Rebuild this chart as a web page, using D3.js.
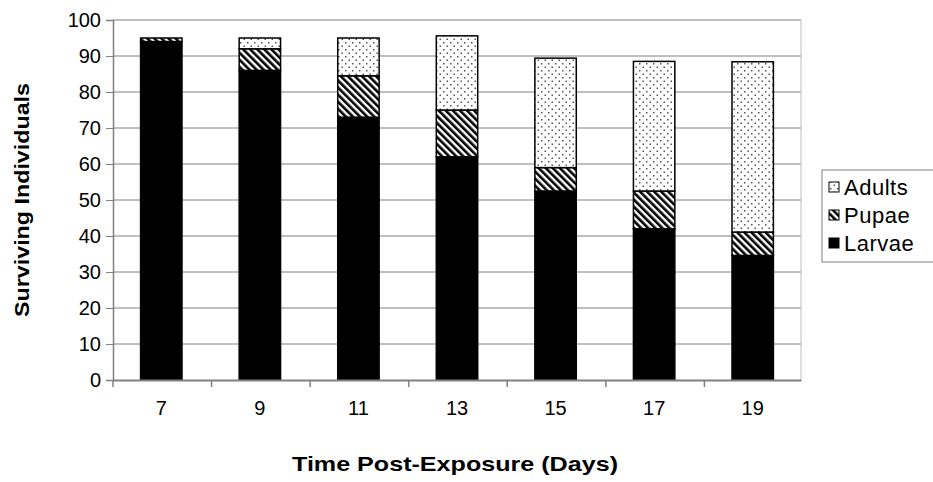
<!DOCTYPE html>
<html>
<head>
<meta charset="utf-8">
<script src="https://cdn.jsdelivr.net/npm/d3@7"></script>
<style>
  body { margin: 0; background: #fff; }
  svg { font-family: "Liberation Sans", Arial, sans-serif; }
</style>
</head>
<body>
<div id="chart"></div>
<script>
// Chart data
const days = ["7", "9", "11", "13", "15", "17", "19"];
const larvae = [94, 86, 73, 62, 52.5, 42, 34.6];
const pupae = [1, 6, 11.5, 13, 6.5, 10.5, 6.5];
const adults = [0, 3, 10.5, 20.6, 30.4, 36, 47.3];
const yTicks = [0, 10, 20, 30, 40, 50, 60, 70, 80, 90, 100];
const seriesNames = ["Larvae", "Pupae", "Adults"];

const width = 933, height = 482;
const margin = { top: 20, right: 132, bottom: 102, left: 113 };
const plotW = width - margin.left - margin.right;
const plotH = height - margin.top - margin.bottom;

const svg = d3.select("#chart").append("svg")
    .attr("width", width)
    .attr("height", height);

// Fill patterns
const defs = svg.append("defs");
const dots = defs.append("pattern")
    .attr("id", "dots")
    .attr("patternUnits", "userSpaceOnUse")
    .attr("width", 7).attr("height", 7);
dots.append("rect").attr("width", 7).attr("height", 7).attr("fill", "#fff");
dots.append("rect").attr("x", 1).attr("y", 1).attr("width", 1.5).attr("height", 1.5).attr("fill", "#555");
dots.append("rect").attr("x", 4.5).attr("y", 4.5).attr("width", 1.5).attr("height", 1.5).attr("fill", "#555");

const hatch = defs.append("pattern")
    .attr("id", "hatch")
    .attr("patternUnits", "userSpaceOnUse")
    .attr("width", 5).attr("height", 5)
    .attr("patternTransform", "rotate(-45)");
hatch.append("rect").attr("width", 5).attr("height", 5).attr("fill", "#fff");
hatch.append("rect").attr("x", 0).attr("y", 0).attr("width", 2.6).attr("height", 5).attr("fill", "#000");

const fills = { Larvae: "#000", Pupae: "url(#hatch)", Adults: "url(#dots)" };

const g = svg.append("g")
    .attr("transform", `translate(${margin.left},${margin.top})`);

const x = d3.scaleBand().domain(days).range([0, plotW]).paddingInner(0.58).paddingOuter(0.28);
const y = d3.scaleLinear().domain([0, 100]).range([plotH, 0]);

// Gridlines
g.selectAll(".grid")
    .data(yTicks.filter(d => d > 0))
    .enter().append("line")
    .attr("x1", 0).attr("x2", plotW)
    .attr("y1", d => y(d)).attr("y2", d => y(d))
    .attr("stroke", "#808080").attr("stroke-width", 1);

g.append("line")
    .attr("x1", plotW).attr("x2", plotW)
    .attr("y1", 0).attr("y2", plotH)
    .attr("stroke", "#c0c0c0").attr("stroke-width", 1);

// Stack the series
const rows = days.map((d, i) => ({ day: d, Larvae: larvae[i], Pupae: pupae[i], Adults: adults[i] }));
const stacked = d3.stack().keys(seriesNames)(rows);

const layers = g.selectAll(".layer")
    .data(stacked)
    .enter().append("g")
    .attr("fill", d => fills[d.key]);

layers.selectAll("rect")
    .data(d => d.filter(p => p[1] - p[0] > 0))
    .enter().append("rect")
    .attr("x", d => x(d.data.day))
    .attr("y", d => y(d[1]))
    .attr("width", x.bandwidth())
    .attr("height", d => y(d[0]) - y(d[1]))
    .attr("stroke", "#000")
    .attr("stroke-width", 1.5);

// Axes
const yAxis = g.append("g")
    .call(d3.axisLeft(y).tickValues(yTicks).tickSize(7).tickPadding(5));
yAxis.select(".domain").attr("stroke", "#808080").attr("stroke-width", 1.5);
yAxis.selectAll(".tick line").attr("stroke", "#808080");
yAxis.selectAll("text").attr("font-size", 20).attr("fill", "#000");

const xAxis = g.append("g")
    .attr("transform", `translate(0,${plotH})`)
    .call(d3.axisBottom(x).tickSize(0).tickPadding(21));
xAxis.select(".domain").attr("stroke", "#808080").attr("stroke-width", 2);
xAxis.selectAll("text").attr("font-size", 20).attr("fill", "#000");

// Tick marks between categories
const step = x.step();
g.selectAll(".xtick")
    .data(d3.range(days.length))
    .enter().append("line")
    .attr("x1", i => i * step).attr("x2", i => i * step)
    .attr("y1", plotH).attr("y2", plotH + 7)
    .attr("stroke", "#808080").attr("stroke-width", 1.5);

// Axis titles
svg.append("text")
    .attr("x", 455)
    .attr("y", 471)
    .attr("text-anchor", "middle")
    .attr("font-size", 21)
    .attr("font-weight", "bold")
    .attr("textLength", 326)
    .attr("lengthAdjust", "spacingAndGlyphs")
    .text("Time Post-Exposure (Days)");

svg.append("text")
    .attr("transform", `translate(29,${margin.top + plotH / 2}) rotate(-90)`)
    .attr("text-anchor", "middle")
    .attr("font-size", 21)
    .attr("font-weight", "bold")
    .attr("textLength", 234)
    .attr("lengthAdjust", "spacingAndGlyphs")
    .text("Surviving Individuals");

// Legend
const legend = svg.append("g").attr("transform", "translate(822,170)");
legend.append("rect")
    .attr("width", 118).attr("height", 92)
    .attr("fill", "#fff").attr("stroke", "#808080").attr("stroke-width", 1);
const legendOrder = ["Adults", "Pupae", "Larvae"];
const items = legend.selectAll(".item")
    .data(legendOrder)
    .enter().append("g")
    .attr("transform", (d, i) => `translate(7,${17 + i * 28})`);
items.append("rect")
    .attr("x", 0).attr("y", -5)
    .attr("width", 10).attr("height", 10)
    .attr("fill", d => fills[d])
    .attr("stroke", "#000").attr("stroke-width", 1);
items.append("text")
    .attr("x", 15).attr("y", 0)
    .attr("dy", "0.35em")
    .attr("font-size", 22)
    .attr("letter-spacing", 0.5)
    .text(d => d);
</script>
</body>
</html>
